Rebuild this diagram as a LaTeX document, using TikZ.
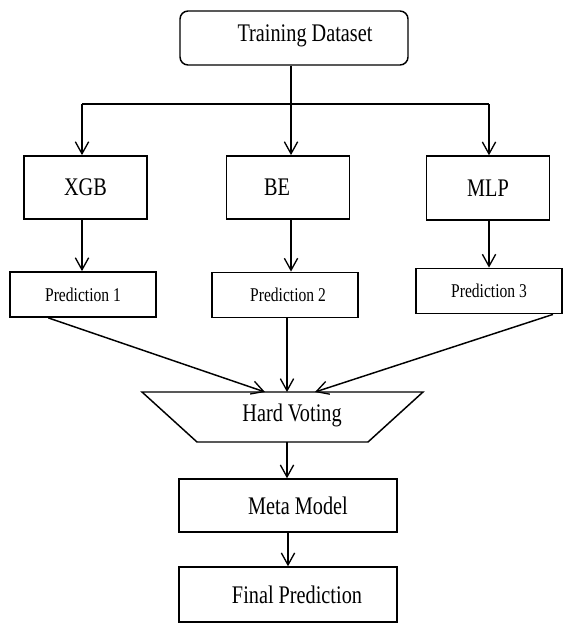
\documentclass[tikz,border=0pt]{standalone}
\usepackage{fontspec}
\setmainfont{Liberation Serif}[FakeStretch=0.8]
\usetikzlibrary{arrows.meta}
\tikzset{
  box/.style={draw, line width=1.1pt, inner sep=0pt, font=\fontsize{19}{22}\selectfont},
  predbox/.style={box, minimum width=109.5pt, minimum height=34pt, font=\fontsize{14.6}{17}\selectfont},
  modelbox/.style={box, minimum width=92pt, minimum height=47.5pt},
  lbl/.style={inner sep=0pt, font=\fontsize{19}{22}\selectfont},
  conn/.style={line width=1.1pt},
  arr/.style={conn, -{Straight Barb[length=9pt,width=10pt,line width=1pt]}},
}
\begin{document}
\begin{tikzpicture}[x=0.75pt,y=-0.75pt]
\useasboundingbox (0,0) rectangle (567,628);
% top box
\node[box, rounded corners=6pt, minimum width=171pt, minimum height=40.5pt,
      label={[lbl, xshift=8.25pt, yshift=1.5pt]center:Training Dataset}] (train) at (294,38) {};
% split
\coordinate (split) at (291,104);
\coordinate (jl) at (82,104);
\coordinate (jr) at (489,104);
% model boxes
\node[modelbox] (xgb) at (85.5,187.5) {XGB};
\node[modelbox, label={[lbl, xshift=-8.25pt]center:BE}] (be) at (288,187.5) {};
\node[modelbox, minimum height=48pt] (mlp) at (488,188) {MLP};
% prediction boxes
\node[predbox] (p1) at (83,294.5) {Prediction 1};
\node[predbox] (p2) at (285,295) {\hspace*{4.5pt}Prediction 2};
\node[predbox] (p3) at (489,291) {Prediction 3};
% hard voting
\coordinate (hvl) at (142,392);
\coordinate (hvr) at (423,392);
\coordinate (hvbr) at (368,442);
\coordinate (hvbl) at (197,442);
\draw[conn, line join=miter] (hvl) -- (hvr) -- (hvbr) -- (hvbl) -- cycle;
\node[lbl] (hv) at (292,415) {Hard Voting};
\coordinate (in1) at (265,392);
\coordinate (in2) at (287,392);
\coordinate (in3) at (315,392);
\coordinate (out) at (287,442);
% meta and final
\node[box, minimum width=163.5pt, minimum height=39.75pt,
      label={[lbl, xshift=7.5pt]center:Meta Model}] (meta) at (288,505.5) {};
\node[box, minimum width=163.5pt, minimum height=41.25pt,
      label={[lbl, xshift=6.75pt]center:Final Prediction}] (final) at (288,594.5) {};
% connectors
\draw[conn] (train.south -| split) -- (split);
\draw[conn] (jl) -- (jr);
\draw[arr] (jl) -- (jl |- xgb.north);
\draw[arr] (split) -- (split |- be.north);
\draw[arr] (jr) -- (jr |- mlp.north);
\draw[arr] (jl |- xgb.south) -- (jl |- p1.north);
\draw[arr] ([xshift=2.25pt]be.south) -- ([xshift=2.25pt]be.south |- p2.north);
\draw[arr] (jr |- mlp.south) -- (jr |- p3.north);
\draw[arr] ([xshift=-26pt]p1.south) -- (in1);
\draw[arr] (in2 |- p2.south) -- (in2);
\draw[arr] ([xshift=48pt]p3.south) -- (in3);
\draw[arr] (out) -- (out |- meta.north);
\draw[arr] (meta.south) -- (final.north);
\end{tikzpicture}
\end{document}
